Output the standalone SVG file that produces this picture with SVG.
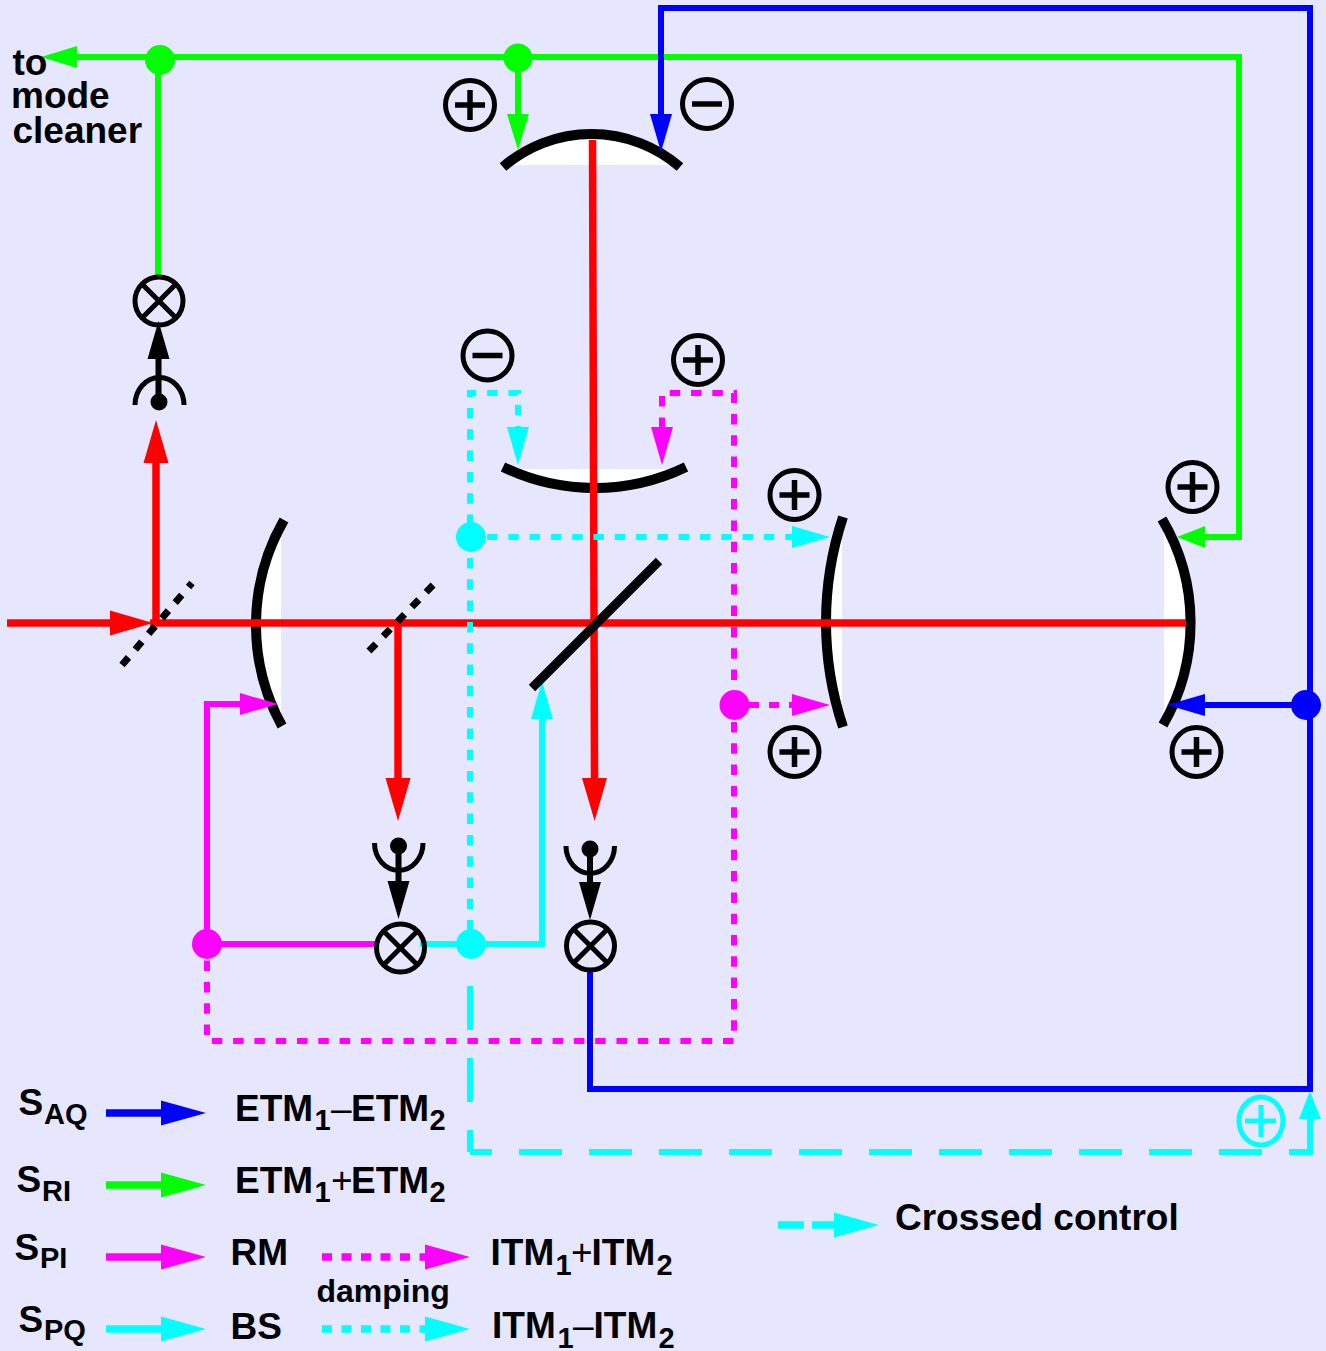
<svg xmlns="http://www.w3.org/2000/svg" width="1326" height="1351" viewBox="0 0 1326 1351">
<style>
text{font-family:"Liberation Sans",Arial,sans-serif;font-weight:bold;font-size:37px;fill:#000}
text.sub{font-size:29px}
text.op{font-weight:normal}
text.sm{font-size:32px}
.c{fill:none;stroke-width:6}
.red{stroke:#f00;stroke-width:7.5}
.g{stroke:#0f0}.b{stroke:#00f}.m{stroke:#f0f}.y{stroke:#0ff}.k{stroke:#000}
.dot{stroke-dasharray:10.500 10.800}
.leg{stroke-width:7.5}
.mir{fill:none;stroke:#000;stroke-width:10}
.lens{fill:#fff}
.ring{fill:none;stroke:#000;stroke-width:5}
.split{fill:none;stroke:#000;stroke-width:7;stroke-dasharray:10 10.500}
</style>
<defs>
<marker id="ag" markerUnits="userSpaceOnUse" overflow="visible" orient="auto" markerWidth="50" markerHeight="30"><path d="M0,-11L36,0L0,11Z" fill="#0f0"/></marker>
<marker id="ags" markerUnits="userSpaceOnUse" overflow="visible" orient="auto" markerWidth="50" markerHeight="30"><path d="M0,-11L28,0L0,11Z" fill="#0f0"/></marker>
<marker id="ab" markerUnits="userSpaceOnUse" overflow="visible" orient="auto" markerWidth="50" markerHeight="30"><path d="M0,-11L38,0L0,11Z" fill="#00f"/></marker>
<marker id="am" markerUnits="userSpaceOnUse" overflow="visible" orient="auto" markerWidth="50" markerHeight="30"><path d="M0,-11L38,0L0,11Z" fill="#f0f"/></marker>
<marker id="ay" markerUnits="userSpaceOnUse" overflow="visible" orient="auto" markerWidth="50" markerHeight="30"><path d="M0,-11L38,0L0,11Z" fill="#0ff"/></marker>
<marker id="ays" markerUnits="userSpaceOnUse" overflow="visible" orient="auto" markerWidth="50" markerHeight="30"><path d="M0,-11L28,0L0,11Z" fill="#0ff"/></marker>
<marker id="ak" markerUnits="userSpaceOnUse" overflow="visible" orient="auto" markerWidth="50" markerHeight="30"><path d="M0,-11L38,0L0,11Z" fill="#000"/></marker>
<marker id="ar" markerUnits="userSpaceOnUse" overflow="visible" orient="auto" markerWidth="50" markerHeight="30"><path d="M0,-12.500L43,0L0,12.500Z" fill="#f00"/></marker>
<marker id="lb" markerUnits="userSpaceOnUse" overflow="visible" orient="auto" markerWidth="50" markerHeight="30"><path d="M0,-12.500L45,0L0,12.500Z" fill="#00f"/></marker>
<marker id="lg" markerUnits="userSpaceOnUse" overflow="visible" orient="auto" markerWidth="50" markerHeight="30"><path d="M0,-12.500L45,0L0,12.500Z" fill="#0f0"/></marker>
<marker id="lm" markerUnits="userSpaceOnUse" overflow="visible" orient="auto" markerWidth="50" markerHeight="30"><path d="M0,-12.500L45,0L0,12.500Z" fill="#f0f"/></marker>
<marker id="ly" markerUnits="userSpaceOnUse" overflow="visible" orient="auto" markerWidth="50" markerHeight="30"><path d="M0,-12.500L45,0L0,12.500Z" fill="#0ff"/></marker>
<g id="plus"><circle r="24.500" class="ring"/><path d="M-15,0H15M0,-15V15" fill="none" stroke="#000" stroke-width="5.500"/></g>
<g id="minus"><circle r="24.500" class="ring"/><path d="M-15,0H15" fill="none" stroke="#000" stroke-width="5.500"/></g>
<g id="mix"><circle r="24" class="ring"/><path d="M-17,-17L17,17M-17,17L17,-17" fill="none" stroke="#000" stroke-width="5"/></g>
</defs>
<rect width="1326" height="1351" fill="#e6e6ff"/>

<g id="mirror-etm-top"><path class="lens" d="M507,165A135,135 0 0 1 676,165Z"/><path class="mir" d="M503,167A135,135 0 0 1 680,167"/></g>
<g id="mirror-itm-top"><path class="lens" d="M518,469A210,210 0 0 0 670,469Z"/><path class="mir" d="M503,467A210,210 0 0 0 686,467"/></g>
<g id="mirror-rm"><path class="lens" d="M281,530A210,210 0 0 0 281,716Z"/><path class="mir" d="M284,520A210,210 0 0 0 282,726"/></g>
<g id="mirror-itm-right"><path class="lens" d="M842,530A333,333 0 0 0 842,715Z"/><path class="mir" d="M843,517A333,333 0 0 0 843,727"/></g>
<g id="mirror-etm-right"><path class="lens" d="M1164,530A203,203 0 0 1 1164,716Z"/><path class="mir" d="M1162,519A203,203 0 0 1 1163,725"/></g>

<g id="connectors">
<path class="c red" d="M7,623H110" marker-end="url(#ar)"/>
<path class="c red" d="M150,623H1186"/>
<path class="c red" d="M156,623V463" marker-end="url(#ar)"/>
<path class="c red" d="M398,623V778" marker-end="url(#ar)"/>
<path class="c red" d="M592.500,140L594.500,778" marker-end="url(#ar)"/>

<path class="c g" d="M1242,57H77" marker-end="url(#ag)"/>
<path class="c g" d="M158,60V276"/>
<path class="c g" d="M518,58V114" marker-end="url(#ag)"/>
<path class="c g" d="M1239,57V537H1205" marker-end="url(#ags)"/>

<path class="c m" d="M207,944V704H240" marker-end="url(#am)"/>
<path class="c m" d="M207,944H376"/>
<path class="c y" d="M420,944H542V719" marker-end="url(#ay)"/>

<path class="c y dot" d="M470,525V393H518V427" marker-end="url(#ay)"/>
<path class="c y dot" d="M470,558V930"/>
<path class="c y dot" d="M487,537H792" marker-end="url(#ay)"/>
<path class="c m dot" d="M734,680V393H662V427" marker-end="url(#am)"/>
<path class="c m dot" d="M749,705H792" marker-end="url(#am)" style="stroke-dasharray:10 10"/>
<path class="c m dot" d="M734,722V1041H207V960"/>

<path class="c y" style="stroke-dasharray:44 28" d="M470,986V1152"/>
<path class="c y" style="stroke-dasharray:43 27" d="M1262,1152H470"/>
<path class="c y" d="M1289,1152H1310V1119" marker-end="url(#ays)"/>

<path class="c b" d="M590,970V1089H1310V8H661V114" marker-end="url(#ab)"/>
<path class="c b" d="M1306,705H1205" marker-end="url(#ab)"/>

<path class="c k" d="M158.500,402V359" marker-end="url(#ak)"/>
<path class="c k" d="M398.500,846V881" marker-end="url(#ak)"/>
<path class="c k" d="M590,849V882" marker-end="url(#ak)"/>
</g>

<g id="splitter-1"><path class="split" d="M122,665L192,583"/></g>
<g id="splitter-2"><path class="split" d="M369,651L436,582"/></g>
<g id="beamsplitter"><path d="M532,688L659,561" fill="none" stroke="#000" stroke-width="9"/></g>

<g id="junction-g1"><circle cx="160" cy="60" r="15" fill="#0f0"/></g>
<g id="junction-g2"><circle cx="518" cy="58" r="14.500" fill="#0f0"/></g>
<g id="junction-b"><circle cx="1306" cy="705" r="15" fill="#00f"/></g>
<g id="junction-m1"><circle cx="207" cy="944" r="15" fill="#f0f"/></g>
<g id="junction-m2"><circle cx="734.500" cy="705" r="15" fill="#f0f"/></g>
<g id="junction-y1"><circle cx="471" cy="537" r="15" fill="#0ff"/></g>
<g id="junction-y2"><circle cx="471" cy="944" r="15" fill="#0ff"/></g>

<g id="mixer-1"><use href="#mix" x="159" y="301"/></g>
<g id="mixer-2"><use href="#mix" x="400.500" y="948"/></g>
<g id="mixer-3"><use href="#mix" x="590.500" y="946"/></g>

<g id="detector-1"><path class="ring" d="M135,405A24,27 0 0 1 184,405"/><circle cx="159" cy="402" r="8.500"/></g>
<g id="detector-2"><path class="ring" d="M374.500,843A24,27 0 0 0 423,843"/><circle cx="398.500" cy="846" r="8.500"/></g>
<g id="detector-3"><path class="ring" d="M566,846A24,27 0 0 0 614.500,846"/><circle cx="590" cy="849" r="8.500"/></g>

<g id="sign-1"><use href="#plus" x="470" y="105"/></g>
<g id="sign-2"><use href="#minus" x="707" y="104"/></g>
<g id="sign-3"><use href="#minus" x="487.500" y="355.500"/></g>
<g id="sign-4"><use href="#plus" x="698" y="360"/></g>
<g id="sign-5"><use href="#plus" x="794.500" y="495"/></g>
<g id="sign-6"><use href="#plus" x="794.500" y="752"/></g>
<g id="sign-7"><use href="#plus" x="1192.500" y="487"/></g>
<g id="sign-8"><use href="#plus" x="1196.500" y="752"/></g>
<g id="sign-9"><ellipse cx="1261" cy="1121" rx="22" ry="24" fill="none" stroke="#0ff" stroke-width="5"/><path d="M1245,1121H1276M1261,1105V1137" fill="none" stroke="#0ff" stroke-width="5"/></g>

<g id="label-cleaner">
<text x="12.500" y="75">to</text>
<text x="11" y="108">mode</text>
<text x="12.500" y="143">cleaner</text>
</g>

<g id="legend">
<path class="c b leg" d="M106,1113H161" marker-end="url(#lb)"/>
<path class="c g leg" d="M106,1185H161" marker-end="url(#lg)"/>
<path class="c m leg" d="M106,1257H161" marker-end="url(#lm)"/>
<path class="c y leg" d="M106,1329H161" marker-end="url(#ly)"/>
<path class="c m leg" style="stroke-dasharray:10 9.500" d="M322,1257H425" marker-end="url(#lm)"/>
<path class="c y leg" style="stroke-dasharray:10 9.500" d="M322,1329H425" marker-end="url(#ly)"/>
<path class="c y leg" style="stroke-dasharray:26 8" d="M778,1225H834" marker-end="url(#ly)"/>

<text x="18.500" y="1115">S</text><text class="sub" x="44" y="1124">AQ</text>
<text x="16.500" y="1192">S</text><text class="sub" x="42" y="1201">RI</text>
<text x="14.500" y="1260">S</text><text class="sub" x="40" y="1268">PI</text>
<text x="18.500" y="1332">S</text><text class="sub" x="44" y="1340">PQ</text>

<text x="235" y="1121">ETM</text><text class="sub" x="314.500" y="1130">1</text><text class="op" x="331" y="1121">–</text><text x="351" y="1121">ETM</text><text class="sub" x="429.500" y="1130">2</text>
<text x="235" y="1193">ETM</text><text class="sub" x="314.500" y="1202">1</text><text class="op" x="331" y="1193">+</text><text x="351" y="1193">ETM</text><text class="sub" x="429.500" y="1202">2</text>
<text x="230.500" y="1265">RM</text>
<text x="230.500" y="1339">BS</text>
<text class="sm" x="316.500" y="1302">damping</text>
<text x="490.500" y="1265">ITM</text><text class="sub" x="555.500" y="1275">1</text><text class="op" x="571" y="1265">+</text><text x="591.500" y="1265">ITM</text><text class="sub" x="656.500" y="1275">2</text>
<text x="492" y="1338">ITM</text><text class="sub" x="557.500" y="1348">1</text><text class="op" x="573" y="1338">–</text><text x="593.500" y="1338">ITM</text><text class="sub" x="658.500" y="1348">2</text>
<text x="895" y="1230">Crossed control</text>
</g>
</svg>
